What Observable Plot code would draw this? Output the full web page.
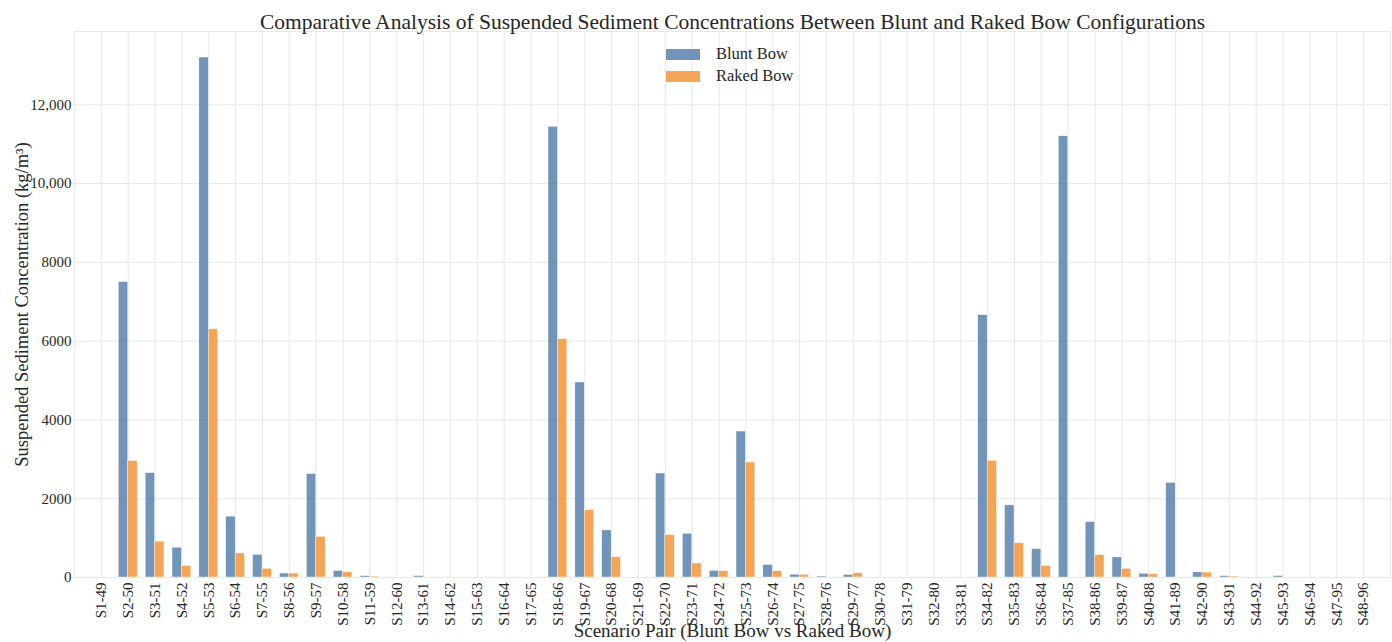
<!DOCTYPE html>
<html>
<head>
<meta charset="utf-8">
<script src="https://cdn.jsdelivr.net/npm/d3@7"></script>
<script src="https://cdn.jsdelivr.net/npm/@observablehq/plot@0.6"></script>
<style>
  html, body { margin: 0; padding: 0; background: #fff; }
  #chart { position: relative; width: 1392px; height: 642px; font-family: "Liberation Serif", "DejaVu Serif", serif; color: #262626; }
  #legend { position: absolute; left: 666px; top: 43px; font-size: 16.5px; line-height: 22px; }
  #legend .item { display: flex; align-items: center; height: 22px; }
  #legend .sw { width: 34px; height: 11px; margin-right: 16px; opacity: 0.8; }
</style>
</head>
<body>
<div id="chart"><div id="legend"></div></div>
<script>
// Scenario pairs (blunt-bow run vs. matching raked-bow run)
const pairs = [
  "S1-49","S2-50","S3-51","S4-52","S5-53","S6-54","S7-55","S8-56","S9-57","S10-58",
  "S11-59","S12-60","S13-61","S14-62","S15-63","S16-64","S17-65","S18-66","S19-67","S20-68",
  "S21-69","S22-70","S23-71","S24-72","S25-73","S26-74","S27-75","S28-76","S29-77","S30-78",
  "S31-79","S32-80","S33-81","S34-82","S35-83","S36-84","S37-85","S38-86","S39-87","S40-88",
  "S41-89","S42-90","S43-91","S44-92","S45-93","S46-94","S47-95","S48-96"
];

// Suspended sediment concentration, kg/m³
const bluntBow = [
  0, 7500, 2650, 755, 13200, 1545, 575, 100, 2625, 165,
  35, 0, 35, 0, 0, 0, 0, 11440, 4950, 1195,
  0, 2640, 1110, 170, 3705, 315, 70, 25, 65, 0,
  0, 0, 0, 6660, 1830, 720, 11200, 1405, 510, 95,
  2400, 130, 35, 0, 35, 0, 0, 0
];
const rakedBow = [
  0, 2955, 910, 290, 6300, 610, 220, 100, 1030, 130,
  25, 0, 0, 0, 0, 0, 0, 6050, 1710, 515,
  0, 1075, 355, 160, 2920, 160, 70, 0, 105, 0,
  0, 0, 0, 2960, 870, 290, 0, 570, 220, 80,
  0, 125, 25, 0, 0, 0, 0, 0
];

const seriesNames = ["Blunt Bow", "Raked Bow"];
const seriesColors = ["#4e79a7", "#f28e2b"];
const yTicks = [0, 2000, 4000, 6000, 8000, 10000, 12000];

const title = "Comparative Analysis of Suspended Sediment Concentrations Between Blunt and Raked Bow Configurations";
const xLabel = "Scenario Pair (Blunt Bow vs Raked Bow)";
const yLabel = "Suspended Sediment Concentration (kg/m³)";

// Long table: one row per bar; the two bars of a pair sit side by side around the tick
const barWidth = 0.35;
const rows = [];
pairs.forEach((p, i) => {
  rows.push({idx: i, pair: p, series: seriesNames[0], value: bluntBow[i], x1: i - barWidth, x2: i});
  rows.push({idx: i, pair: p, series: seriesNames[1], value: rakedBow[i], x1: i, x2: i + barWidth});
});
const idx = pairs.map((_, i) => i);

const yFormat = d => d >= 10000 ? d3.format(",")(d) : String(d);
const gridColor = "#e8e8e8";
const ink = "#262626";

const plot = Plot.plot({
  width: 1392,
  height: 642,
  marginLeft: 74,
  marginRight: 2,
  marginTop: 31,
  marginBottom: 65,
  style: {fontFamily: "Liberation Serif, DejaVu Serif, serif", color: ink, background: "#fff"},
  x: {type: "linear", domain: [-1, 48]},
  y: {domain: [0, 13860]},
  color: {domain: seriesNames, range: seriesColors},
  marks: [
    Plot.gridX(idx, {stroke: gridColor, strokeOpacity: 1}),
    Plot.gridY(yTicks, {stroke: gridColor, strokeOpacity: 1}),
    Plot.frame({stroke: gridColor, strokeOpacity: 1}),
    Plot.rectY(rows, {x1: "x1", x2: "x2", y: "value", fill: "series", fillOpacity: 0.8, stroke: "white", strokeWidth: 0.4}),
    Plot.axisY(yTicks, {tickSize: 0, tickPadding: 3, tickFormat: yFormat, fontSize: 15, label: null}),
    Plot.axisX(idx, {tickSize: 0, tickPadding: 5, tickRotate: -90, tickFormat: i => pairs[i], fontSize: 15, label: null}),
    Plot.text([title], {frameAnchor: "top", dy: -3, fontSize: 21.5, lineAnchor: "bottom", fill: ink}),
    Plot.text([yLabel], {frameAnchor: "left", dx: -52, rotate: -90, textAnchor: "middle", lineAnchor: "middle", fontSize: 18.5, fill: ink}),
    Plot.text([xLabel], {frameAnchor: "bottom", dy: 59, lineAnchor: "bottom", fontSize: 19, fill: ink})
  ]
});

const chart = document.getElementById("chart");
chart.insertBefore(plot, chart.firstChild);

// Legend inside the plot area, top centre
const legend = d3.select("#legend");
seriesNames.forEach((name, k) => {
  const item = legend.append("div").attr("class", "item");
  item.append("div").attr("class", "sw").style("background", seriesColors[k]);
  item.append("span").text(name);
});
</script>
</body>
</html>
